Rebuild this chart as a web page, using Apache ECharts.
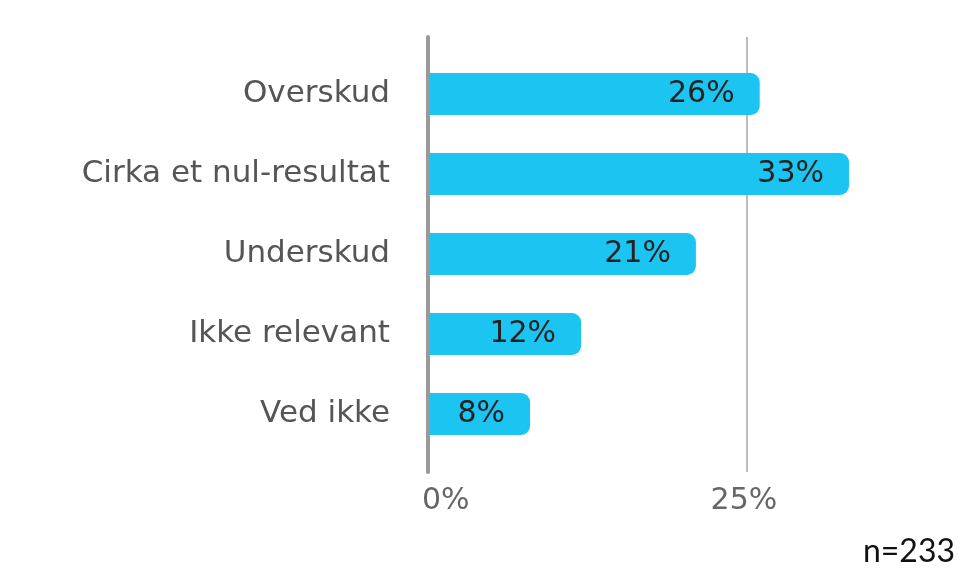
<!DOCTYPE html>
<html>
<head>
<meta charset="utf-8">
<script src="https://cdn.jsdelivr.net/npm/echarts@6/dist/echarts.min.js"></script>
<style>
  html, body { margin: 0; padding: 0; background: #fff; }
  #main { width: 966px; height: 570px; }
</style>
</head>
<body>
<div id="main"></div>
<script>
    // data
    const categories = ['Overskud', 'Cirka et nul-resultat', 'Underskud', 'Ikke relevant', 'Ved ikke'];
    const shares = [26, 33, 21, 12, 8];
    const tickValues = [0, 25];
    const sampleNote = 'n=233';

    const font = 'DejaVu Sans';
    const myChart = echarts.init(document.getElementById('main'));

    const option = {
        animation: false,
        title: {
            text: sampleNote,
            right: 6,
            bottom: -3,
            textStyle: { fontFamily: 'Lato', fontSize: 32, fontWeight: 'normal', color: '#111' }
        },
        grid: [
            { left: 428, top: 54, width: 421, height: 400 },
            { left: 428, top: 37, width: 421, height: 435 }
        ],
        xAxis: [
            { gridIndex: 0, type: 'value', min: 0, max: 33, show: false },
            {
                gridIndex: 1, type: 'value', min: 0, max: 33, interval: 25,
                axisLine: { show: false },
                axisTick: { show: false },
                axisLabel: {
                    formatter: v => tickValues.includes(v) ? v + '%' : '',
                    showMaxLabel: false,
                    alignMinLabel: 'left',
                    margin: 14,
                    padding: [0, 0, 0, -6],
                    fontFamily: font, fontSize: 30, color: '#666'
                },
                splitLine: {
                    show: true, showMinLine: false, showMaxLine: false,
                    lineStyle: { color: '#bbb', width: 2 }
                }
            }
        ],
        yAxis: [
            {
                gridIndex: 0, type: 'category', data: categories, inverse: true,
                axisLine: { show: false },
                axisTick: { show: false },
                axisLabel: { margin: 38, fontFamily: font, fontSize: 31, color: '#555' }
            },
            {
                gridIndex: 1, type: 'value', z: 5,
                axisLine: { show: true, lineStyle: { color: '#9a9a9a', width: 4 } },
                axisTick: { show: false },
                axisLabel: { show: false },
                splitLine: { show: false }
            }
        ],
        series: [
            {
                type: 'bar',
                xAxisIndex: 0,
                yAxisIndex: 0,
                data: shares,
                barWidth: 42,
                itemStyle: { color: '#1bc4f1', borderRadius: [0, 9, 9, 0] },
                label: {
                    show: true,
                    position: 'insideRight',
                    distance: 25,
                    formatter: '{c}%',
                    fontFamily: font,
                    fontSize: 30,
                    color: '#222'
                }
            }
        ]
    };
    myChart.setOption(option);
</script>
</body>
</html>
